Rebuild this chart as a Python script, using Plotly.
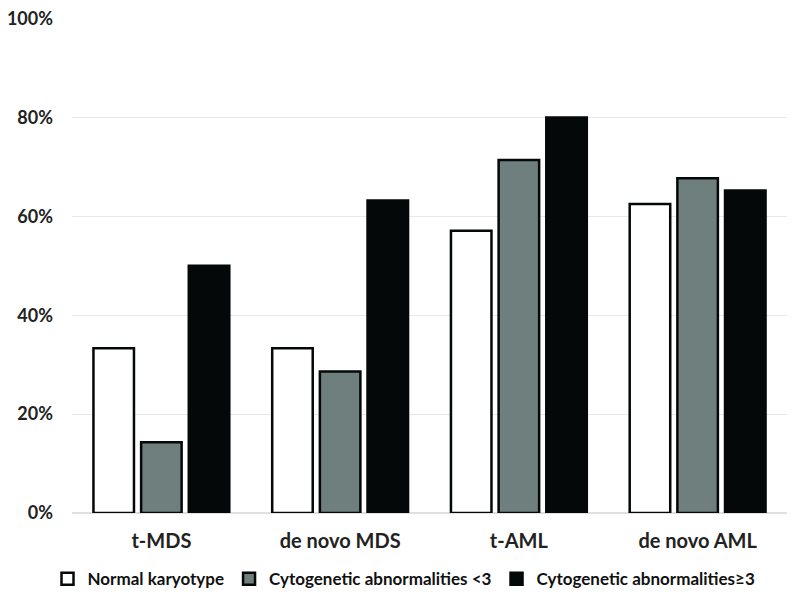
import plotly.graph_objects as go

categories = ["t-MDS", "de novo MDS", "t-AML", "de novo AML"]
series_names = ["Normal karyotype", "Cytogenetic abnormalities <3", "Cytogenetic abnormalities\u22653"]
normal = [0.333, 0.333, 0.571, 0.625]
abn_lt3 = [0.143, 0.286, 0.714, 0.677]
abn_ge3 = [0.50, 0.632, 0.80, 0.652]
y_ticks = [0, 0.2, 0.4, 0.6, 0.8, 1.0]
y_tick_labels = ["0%", "20%", "40%", "60%", "80%", "100%"]

colors = ["#ffffff", "#6f7f7e", "#050808"]
values = [normal, abn_lt3, abn_ge3]

fig = go.Figure()
for name, vals, col in zip(series_names, values, colors):
    fig.add_trace(go.Bar(
        x=categories, y=vals, name=name,
        marker=dict(color=col, line=dict(color="#050808", width=2.5)),
    ))

font_family = "Lato, Open Sans, sans-serif"
fig.update_layout(
    width=792, height=592,
    paper_bgcolor="white", plot_bgcolor="white",
    margin=dict(l=64, r=13, t=10, b=87, autoexpand=False),
    barmode="group", bargap=0.2, bargroupgap=0.15,
    font=dict(family=font_family, size=16, color="#222222"),
    showlegend=True,
    legend=dict(orientation="h", x=0.5, xanchor="center", xref="container",
                y=0.035, yanchor="middle", yref="container",
                font=dict(size=17, color="#111111", weight="bold"),
                traceorder="normal", itemwidth=30, tracegroupgap=0),
    xaxis=dict(showgrid=False, showline=False, ticks="", automargin=False,
               tickfont=dict(size=20, color="#222222", weight="bold"), ticklabelstandoff=14),
    yaxis=dict(range=[0, 1.001], tickvals=y_ticks, ticktext=y_tick_labels, automargin=False,
               showgrid=True, gridcolor="#e8e8e8", gridwidth=1, ticklabeloverflow="allow",
               zeroline=True, zerolinecolor="#e0e0e0", showline=False, ticks="",
               tickfont=dict(size=18, color="#222222", weight="bold"), ticklabelstandoff=18),
)

fig.write_html("out.html")
